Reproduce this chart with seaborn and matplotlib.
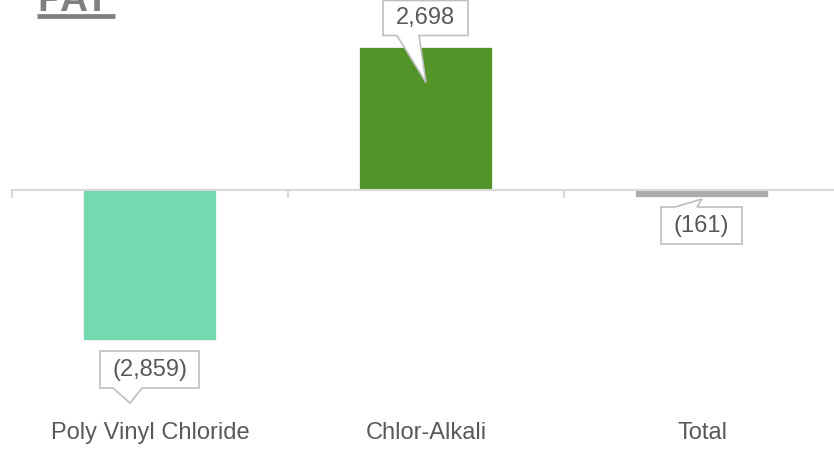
import matplotlib
matplotlib.use("Agg")
import matplotlib.pyplot as plt
from matplotlib.patches import Polygon
from matplotlib.lines import Line2D
from matplotlib.transforms import IdentityTransform
import seaborn as sns
import pandas as pd

# --- data -------------------------------------------------------------
categories = ["Poly Vinyl Chloride", "Chlor-Alkali", "Total"]
values = [-2859, 2698, -161]
bar_colors = ["#74d9b0", "#529428", "#b0abab"]
title = "PAT"

def fmt(v):
    s = f"{abs(v):,.0f}"
    return f"({s})" if v < 0 else s

# --- styling ----------------------------------------------------------
sns.set_theme(style="white")
plt.rcParams["font.family"] = ["Liberation Sans", "DejaVu Sans"]

W, H, DPI = 834, 449, 100
fig = plt.figure(figsize=(W / DPI, H / DPI), dpi=DPI)
ax = fig.add_axes([12 / W, 0, 828 / W, 1])

df = pd.DataFrame({"category": categories, "value": values})
sns.barplot(data=df, x="category", y="value", hue="category",
            order=categories, hue_order=categories, palette=bar_colors,
            width=0.486, legend=False, ax=ax, saturation=1,
            edgecolor="white", linewidth=1.2, zorder=2)

# vertical scale: zero line at ~189.5 px from top, 0.053 px per unit
px_per_unit = 0.053
zero_px = 189.5
ax.set_ylim(-(H - zero_px) / px_per_unit, zero_px / px_per_unit)
ax.set_xlim(-0.5, 2.5)

# axis styling: zero baseline with category separator ticks
for side in ["left", "right", "top"]:
    ax.spines[side].set_visible(False)
ax.spines["bottom"].set_position(("data", 0))
ax.spines["bottom"].set_color("#d9d9d9")
ax.spines["bottom"].set_linewidth(1.5)
ax.spines["bottom"].set_zorder(3)
ax.set_xticks(range(len(categories)))
ax.set_xticklabels([])
ax.tick_params(axis="x", which="major", length=0, bottom=False)
ax.set_xticks([i - 0.5 for i in range(len(categories) + 1)], minor=True)
ax.tick_params(axis="x", which="minor", bottom=True, direction="out",
               length=6, width=1.5, color="#d9d9d9")
ax.set_yticks([])
ax.set_xlabel("")
ax.set_ylabel("")

# category names along the bottom
for i, cat in enumerate(categories):
    ax.text(i, 1 - 433 / H, cat, transform=ax.get_xaxis_transform(),
            ha="center", va="center", fontsize=17, color="#595959")

# --- callout labels ---------------------------------------------------
# offsets in pixels (downward positive) relative to the bar end:
# box (left, top, right, bottom), pointer base (x1, x2), pointer tip (x, y)
callouts = [
    dict(box=(-50, 10, 49, 47), edge="bottom", base=(-37, -8), tip=(-20, 62)),
    dict(box=(-43, -46, 42, -11), edge="bottom", base=(-29, -7), tip=(0, 36)),
    dict(box=(-41, 9, 40, 46), edge="top", base=(-27, -5), tip=(0, 1)),
]

fig.canvas.draw()
for i, (v, c) in enumerate(zip(values, callouts)):
    px, py = ax.transData.transform((i, v))
    cy = H - py  # image coordinates (y down)
    L, T, R, B = c["box"]
    b1, b2 = c["base"]
    tx, ty = c["tip"]
    if c["edge"] == "bottom":
        pts = [(L, T), (R, T), (R, B), (b2, B), (tx, ty), (b1, B), (L, B)]
    else:
        pts = [(L, T), (b1, T), (tx, ty), (b2, T), (R, T), (R, B), (L, B)]
    verts = [(px + x, H - (cy + y)) for x, y in pts]
    poly = Polygon(verts, closed=True, facecolor="white", edgecolor="#bfbfbf",
                   linewidth=1.2, transform=IdentityTransform(), clip_on=False,
                   zorder=5)
    ax.add_artist(poly)
    mx = px + (L + R) / 2
    my = H - (cy + (T + B) / 2)
    ax.text(mx, my, fmt(v), transform=IdentityTransform(), ha="center",
            va="center", fontsize=17, color="#595959", zorder=6)

# --- title (partially above the canvas) -------------------------------
fig.text(37 / W, 1 - 11 / H, title, ha="left", va="baseline",
         fontsize=28, fontweight="bold", color="#7f7f7f")
fig.add_artist(Line2D([37 / W, 115 / W], [1 - 16.3 / H, 1 - 16.3 / H],
                      transform=fig.transFigure, color="#7f7f7f",
                      linewidth=3.4, solid_capstyle="butt"))

fig.savefig("out.png", dpi=DPI, facecolor="white")
